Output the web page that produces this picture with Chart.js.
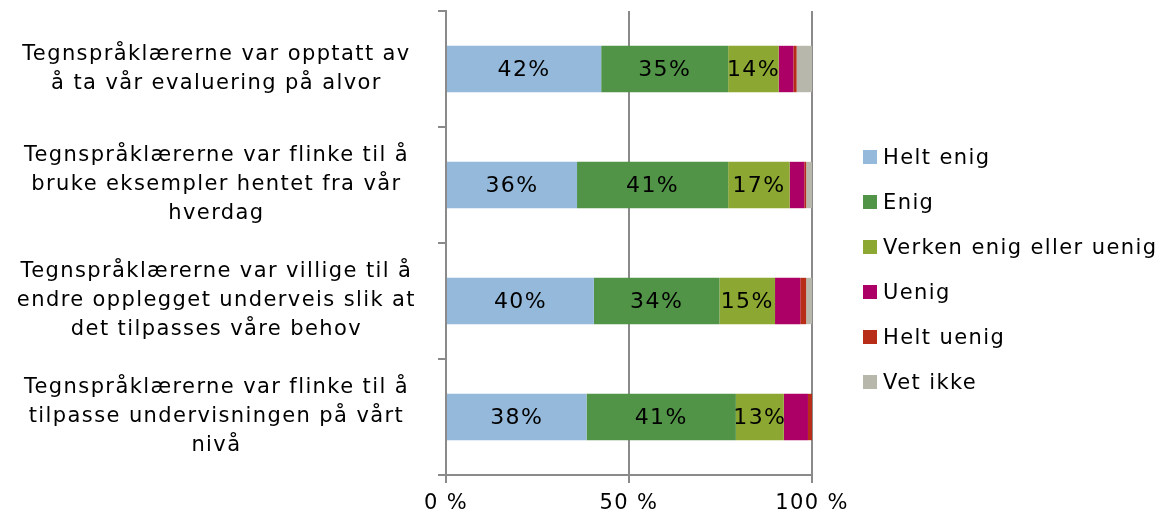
<!DOCTYPE html>
<html>
<head>
<meta charset="utf-8">
<script src="https://cdn.jsdelivr.net/npm/chart.js@4.4.1/dist/chart.umd.min.js"></script>
<style>
body { margin: 0; background: #fff; }
#wrap { position: relative; width: 1170px; height: 520px; }
#legend { position: absolute; left: 863px; top: 134px; font-family: "DejaVu Sans", Verdana, sans-serif; font-size: 21px; letter-spacing: 1.4px; color: #000; }
#legend .row { height: 45px; display: flex; align-items: center; white-space: nowrap; }
#legend .box { width: 14px; height: 14px; margin-right: 6px; flex: none; }
</style>
</head>
<body>
<div id="wrap">
  <canvas id="chart" width="1170" height="520"></canvas>
  <div id="legend"></div>
</div>
<script>
// Categories (multi-line, as in the original)
const categories = [
    ['Tegnspråklærerne var opptatt av', 'å ta vår evaluering på alvor'],
    ['Tegnspråklærerne var flinke til å', 'bruke eksempler hentet fra vår', 'hverdag'],
    ['Tegnspråklærerne var villige til å', 'endre opplegget underveis slik at', 'det tilpasses våre behov'],
    ['Tegnspråklærerne var flinke til å', 'tilpasse undervisningen på vårt', 'nivå']
];

// Series values (percent)
const heltEnig = [42.4, 35.8, 40.4, 38.4];
const enig = [34.7, 41.3, 34.3, 40.8];
const verken = [13.8, 16.8, 15.2, 13.1];
const uenig = [4.0, 4.0, 6.9, 6.6];
const heltUenig = [0.9, 0.5, 1.6, 1.1];
const vetIkke = [4.2, 1.6, 1.6, 0];

const seriesNames = ['Helt enig', 'Enig', 'Verken enig eller uenig', 'Uenig', 'Helt uenig', 'Vet ikke'];
const seriesColors = ['#95b9da', '#529447', '#8da832', '#ad0066', '#b72d17', '#b8b7ac'];

// X axis tick values
const xTicks = [0, 50, 100];

const FONT = '"DejaVu Sans", Verdana, sans-serif';
const AXIS_COLOR = '#8a8a8a';

const allSeries = [heltEnig, enig, verken, uenig, heltUenig, vetIkke];
const datasets = allSeries.map((values, i) => ({
    label: seriesNames[i],
    data: values,
    backgroundColor: seriesColors[i],
    borderWidth: 0,
    barPercentage: 0.4,
    categoryPercentage: 1.0
}));

// Canvas letter spacing, to get closer to the wide Verdana look
const spacing = {
    id: 'spacing',
    beforeLayout(chart) { chart.ctx.letterSpacing = '1.4px'; },
    beforeDraw(chart) { chart.ctx.letterSpacing = '1.4px'; }
};

// Percent labels inside the first three segments
const valueLabels = {
    id: 'valueLabels',
    afterDatasetsDraw(chart) {
        const ctx = chart.ctx;
        ctx.save();
        ctx.font = '22px ' + FONT;
        ctx.letterSpacing = '1.4px';
        ctx.fillStyle = '#000';
        ctx.textAlign = 'center';
        ctx.textBaseline = 'middle';
        for (let d = 0; d < 3; d++) {
            const meta = chart.getDatasetMeta(d);
            meta.data.forEach((bar, i) => {
                const v = chart.data.datasets[d].data[i];
                ctx.fillText(Math.round(v) + '%', (bar.x + bar.base) / 2, bar.y + 1);
            });
        }
        ctx.restore();
    }
};

const ctx = document.getElementById('chart').getContext('2d');
const chart = new Chart(ctx, {
    type: 'bar',
    data: { labels: categories, datasets: datasets },
    options: {
        indexAxis: 'y',
        responsive: false,
        animation: false,
        devicePixelRatio: 1,
        layout: { padding: { top: 11, right: 358, left: 0, bottom: 0 } },
        plugins: {
            legend: { display: false },
            tooltip: { enabled: false }
        },
        scales: {
            x: {
                stacked: true,
                min: 0,
                max: 100,
                afterBuildTicks(scale) { scale.ticks = xTicks.map(v => ({ value: v })); },
                ticks: {
                    callback: v => v + ' %',
                    color: '#000',
                    font: { family: FONT, size: 21 },
                    padding: 8,
                    maxRotation: 0
                },
                grid: { color: AXIS_COLOR, lineWidth: 2, tickLength: 8 },
                border: { color: AXIS_COLOR, width: 2 },
                afterFit(scale) { scale.height = 45; }
            },
            y: {
                stacked: true,
                ticks: {
                    color: '#000',
                    font: { family: FONT, size: 21, lineHeight: 1.38 },
                    crossAlign: 'center',
                    padding: 22
                },
                grid: { drawOnChartArea: false, color: AXIS_COLOR, lineWidth: 2, tickLength: 8, offset: true },
                border: { color: AXIS_COLOR, width: 2 },
                afterFit(scale) {
                    scale.width = 446;
                    scale.paddingTop = 0;
                    scale.paddingBottom = 0;
                }
            }
        }
    },
    plugins: [spacing, valueLabels]
});

// Legend built from the same series names and colours
const legend = document.getElementById('legend');
seriesNames.forEach((name, i) => {
    const row = document.createElement('div');
    row.className = 'row';
    const box = document.createElement('span');
    box.className = 'box';
    box.style.background = seriesColors[i];
    const txt = document.createElement('span');
    txt.textContent = name;
    row.appendChild(box);
    row.appendChild(txt);
    legend.appendChild(row);
});
</script>
</body>
</html>
